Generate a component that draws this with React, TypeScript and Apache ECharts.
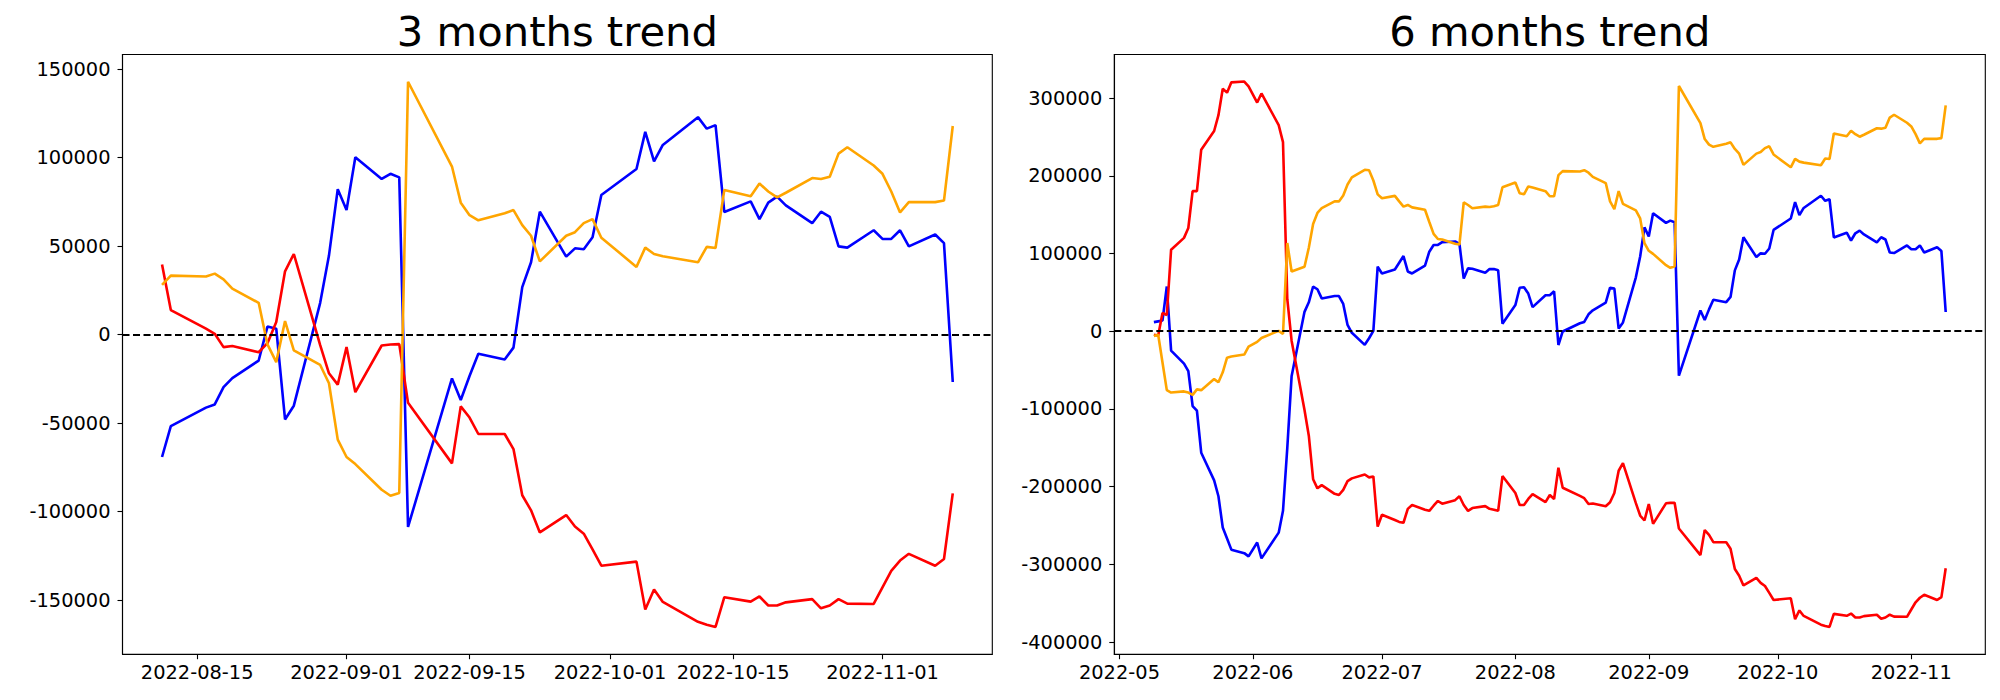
import React, { useEffect, useRef } from "react";
import * as echarts from "echarts";

// ---------- 3 months trend (left panel) ----------
const DATES_3M = [
  "2022-08-11", "2022-08-12", "2022-08-16", "2022-08-17", "2022-08-18", "2022-08-19",
  "2022-08-22", "2022-08-23", "2022-08-24", "2022-08-25", "2022-08-26",
  "2022-08-29", "2022-08-30", "2022-08-31", "2022-09-01", "2022-09-02",
  "2022-09-05", "2022-09-06", "2022-09-07", "2022-09-08",
  "2022-09-13", "2022-09-14", "2022-09-15", "2022-09-16",
  "2022-09-19", "2022-09-20", "2022-09-21", "2022-09-22", "2022-09-23",
  "2022-09-26", "2022-09-27", "2022-09-28", "2022-09-29", "2022-09-30",
  "2022-10-04", "2022-10-05", "2022-10-06", "2022-10-07",
  "2022-10-11", "2022-10-12", "2022-10-13", "2022-10-14",
  "2022-10-17", "2022-10-18", "2022-10-19", "2022-10-20", "2022-10-21",
  "2022-10-24", "2022-10-25", "2022-10-26", "2022-10-27", "2022-10-28",
  "2022-10-31", "2022-11-01", "2022-11-02", "2022-11-03", "2022-11-04",
  "2022-11-07", "2022-11-08", "2022-11-09",
];
const BLUE_3M = [
  -69200, -51800, -41300, -39500, -29700, -24600, -14700, 4500, 3300, -48000, -40200,
  17900, 44600, 82100, 70300, 100200, 87900, 90800, 88800, -108700,
  -24800, -37000, -23400, -10900, -14100, -7400, 26800, 40800, 69400,
  44000, 48700, 48200, 54900, 78800, 93500, 114500, 97800, 107100,
  122800, 116300, 118300, 69200, 75200, 65200, 74500, 77900, 73000,
  62900, 69400, 66500, 49800, 49100, 58900, 54000, 54000, 58900, 49800,
  56500, 51600, -26800,
];
const RED_3M = [
  39500, 13800, 3300, 400, -7100, -6500, -10000, -4900, 7100, 35700, 45500,
  -6000, -21900, -28300, -7100, -32600, -6200, -5600, -5400, -38600,
  -72800, -40600, -46900, -56200, -56200, -64700, -90800, -99300, -111800,
  -102000, -108500, -112500, -121400, -130600, -128300, -155300, -144000, -151100,
  -162300, -164000, -165200, -148400, -150900, -148000, -153100, -153100, -151300,
  -149500, -154700, -153100, -149500, -152000, -152200, -142800, -133500, -127700, -123900,
  -130600, -126800, -89700,
];
const ORANGE_3M = [
  28100, 33300, 32800, 34400, 31200, 25900, 17900, -5600, -15600, 7600, -8900,
  -17200, -27500, -59400, -69200, -73200, -87700, -91100, -89500, 142800,
  94900, 74500, 67400, 64500, 68500, 70300, 61800, 55800, 41300,
  55800, 57800, 62900, 65200, 54700, 38200, 49100, 45500, 44200,
  40800, 49500, 48900, 81700, 78100, 85300, 80800, 77500, 80100,
  88400, 87900, 89100, 102200, 105800, 95500, 90800, 80800, 69000, 74800,
  74800, 75700, 117800,
];

// ---------- 6 months trend (right panel) ----------
const DATES_6M = [
  "2022-05-09", "2022-05-10", "2022-05-11", "2022-05-12", "2022-05-13",
  "2022-05-16", "2022-05-17", "2022-05-18", "2022-05-19", "2022-05-20",
  "2022-05-23", "2022-05-24", "2022-05-25", "2022-05-26", "2022-05-27",
  "2022-05-30", "2022-05-31",
  "2022-06-02", "2022-06-03", "2022-06-07", "2022-06-08", "2022-06-09", "2022-06-10",
  "2022-06-13", "2022-06-14", "2022-06-15", "2022-06-16", "2022-06-17",
  "2022-06-20", "2022-06-21", "2022-06-22", "2022-06-23", "2022-06-24",
  "2022-06-27", "2022-06-28", "2022-06-29", "2022-06-30",
  "2022-07-01", "2022-07-04", "2022-07-05", "2022-07-06", "2022-07-07", "2022-07-08",
  "2022-07-11", "2022-07-12", "2022-07-13", "2022-07-14", "2022-07-15",
  "2022-07-18", "2022-07-19", "2022-07-20", "2022-07-21", "2022-07-22",
  "2022-07-25", "2022-07-26", "2022-07-27", "2022-07-28", "2022-07-29",
  "2022-08-01", "2022-08-02", "2022-08-03", "2022-08-04", "2022-08-05",
  "2022-08-08", "2022-08-09", "2022-08-10", "2022-08-11", "2022-08-12",
  "2022-08-16", "2022-08-17", "2022-08-18", "2022-08-19",
  "2022-08-22", "2022-08-23", "2022-08-24", "2022-08-25", "2022-08-26",
  "2022-08-29", "2022-08-30", "2022-08-31", "2022-09-01", "2022-09-02",
  "2022-09-05", "2022-09-06", "2022-09-07", "2022-09-08",
  "2022-09-13", "2022-09-14", "2022-09-15", "2022-09-16",
  "2022-09-19", "2022-09-20", "2022-09-21", "2022-09-22", "2022-09-23",
  "2022-09-26", "2022-09-27", "2022-09-28", "2022-09-29", "2022-09-30",
  "2022-10-04", "2022-10-05", "2022-10-06", "2022-10-07",
  "2022-10-11", "2022-10-12", "2022-10-13", "2022-10-14",
  "2022-10-17", "2022-10-18", "2022-10-19", "2022-10-20", "2022-10-21",
  "2022-10-24", "2022-10-25", "2022-10-26", "2022-10-27", "2022-10-28",
  "2022-10-31", "2022-11-01", "2022-11-02", "2022-11-03", "2022-11-04",
  "2022-11-07", "2022-11-08", "2022-11-09",
];
const BLUE_6M = [
  11700, 12700, 13700, 57500, -24900, -41700, -51400, -96200, -102300, -156300,
  -191900, -212300, -252500, -266700, -281000, -285500, -289600,
  -271800, -292200, -259100, -231100, -150000, -58000, 24900, 37200, 57500, 54000, 42200,
  45300, 45300, 35100, 8100, -2000, -17500, -9000, 500, 83000,
  74300, 79400, 88100, 96700, 76900, 74300, 84500, 102300, 111000, 111000, 114500,
  115500, 112500, 67700, 80900, 80400, 75300, 79900, 79900, 78400, 9700,
  33600, 56000, 56500, 48400, 31000, 46300, 46300, 51400,
  -17700, -300, 10200, 12000, 21800, 26900, 36800, 56000, 54800, 3500, 11300,
  69400, 96100, 133600, 121800, 151700, 139400, 142300, 140300, -57200,
  26700, 14500, 28100, 40600, 37400, 44100, 78300, 92300, 120900,
  95500, 100200, 99700, 106400, 130300, 145000, 166000, 149300, 158600,
  174300, 167800, 169800, 120700, 126700, 116700, 126000, 129400, 124500,
  114400, 120900, 118000, 101300, 100600, 110400, 105500, 105500, 110400, 101300,
  108000, 103100, 24700,
];
const RED_6M = [
  -4600, -5600, 23400, 20900, 104900, 120100, 132800, 180200, 180200, 233600,
  257600, 277900, 312000, 306900, 320200, 321200, 315100,
  294200, 305900, 265200, 243300, 41200, -12200, -101300, -134400, -190400, -202100, -198000,
  -209200, -210700, -204100, -192900, -189300, -184300, -188000, -186800, -251400,
  -236100, -242800, -245300, -246400, -228500, -223500, -229600, -231100, -224500, -218400, -221900,
  -217300, -212300, -223500, -231100, -227500, -225000, -228500, -229600, -231100, -186300,
  -208200, -223500, -223500, -215800, -209700, -219900, -210700, -215800,
  -175700, -201400, -211900, -214800, -222300, -221700, -225200, -220100, -208100, -179500, -169700,
  -221200, -237100, -243500, -222300, -247800, -221400, -220800, -220600, -253800,
  -288000, -255800, -262100, -271400, -271400, -279900, -306000, -314500, -327000,
  -317200, -323700, -327700, -336600, -345800, -343500, -370500, -359200, -366300,
  -377500, -379200, -380400, -363600, -366100, -363200, -368300, -368300, -366500,
  -364700, -369900, -368300, -364700, -367200, -367400, -358000, -348700, -342900, -339100,
  -345800, -342000, -304900,
];
const ORANGE_6M = [
  -6100, -4600, -40200, -75800, -78900, -77400, -78900, -81900, -74800, -75800,
  -61600, -65700, -52900, -34100, -32600, -30000, -19900,
  -13700, -8700, 500, -3600, 113500, 76900, 83000, 107400, 137900, 152200, 158300,
  167000, 167000, 174600, 188800, 198000, 207700, 207000, 193900, 176100,
  171000, 174100, 167000, 160300, 162400, 159300, 156300, 140500, 125200, 118600, 118100,
  112500, 111500, 165900, 162400, 158300, 160300, 159800, 160800, 162400, 185300,
  191400, 177600, 176100, 186300, 184800, 180200, 173600, 173600,
  200800, 206000, 205500, 207100, 203900, 198600, 190600, 167100, 157100, 180300, 163800,
  155500, 145200, 113300, 103500, 99500, 85000, 81600, 83200, 315500,
  267600, 247200, 240100, 237200, 241200, 243000, 234500, 228500, 214000,
  228500, 230500, 235600, 237900, 227400, 210900, 221800, 218200, 216900,
  213500, 222200, 221600, 254400, 250800, 258000, 253500, 250200, 252800,
  261100, 260600, 261800, 274900, 278500, 268200, 263500, 253500, 241700, 247500,
  247500, 248400, 290500,
];

// ---------- ticks ----------
const X_TICKS_3M = ["2022-08-15", "2022-09-01", "2022-09-15", "2022-10-01", "2022-10-15", "2022-11-01"];
const X_TICKS_6M = ["2022-05-01", "2022-06-01", "2022-07-01", "2022-08-01", "2022-09-01", "2022-10-01", "2022-11-01"];
const Y_TICKS_3M = [-150000, -100000, -50000, 0, 50000, 100000, 150000];
const Y_TICKS_6M = [-400000, -300000, -200000, -100000, 0, 100000, 200000, 300000];

const TITLES = ["3 months trend", "6 months trend"];
const COLORS = { blue: "#0000ff", red: "#ff0000", orange: "#ffa500" };

const FONT = "DejaVu Sans";
const DAY = 86400000;
const ts = (d: string) => Date.parse(d + "T00:00:00Z");

export default function App() {
  const ref = useRef<HTMLDivElement>(null);

  useEffect(() => {
    if (!ref.current) return;
    const chart = echarts.init(ref.current, null, { renderer: "svg" });

    const pair = (dates: string[], vals: number[]) => dates.map((d, i) => [ts(d), vals[i]]);

    const x3min = ts(DATES_3M[0]) - 4.5 * DAY;
    const x3max = ts(DATES_3M[DATES_3M.length - 1]) + 4.5 * DAY;
    const x6min = ts(DATES_6M[0]) - 9.2 * DAY;
    const x6max = ts(DATES_6M[DATES_6M.length - 1]) + 9.2 * DAY;

    const grids = [
      { left: 122.5, top: 54.5, width: 869.8, height: 599.7 },
      { left: 1114.3, top: 54.5, width: 871, height: 599.7 },
    ];

    const labelStyle = { fontSize: 19.4, color: "#000", fontFamily: FONT };
    const tickStyle = { color: "#000", width: 1.1 };

    const xAxis = (gi: number, min: number, max: number, ticks: string[], fmtLen: number) => ({
      type: "value",
      gridIndex: gi,
      min,
      max,
      scale: true,
      axisLine: { show: true, onZero: false, lineStyle: tickStyle },
      axisTick: { show: true, length: 5, lineStyle: tickStyle, customValues: ticks.map(ts) },
      axisLabel: {
        ...labelStyle,
        margin: 9,
        customValues: ticks.map(ts),
        formatter: (v: number) => new Date(v).toISOString().slice(0, fmtLen),
      },
      splitLine: { show: false },
    });

    const yAxis = (gi: number, min: number, max: number, ticks: number[]) => ({
      type: "value",
      gridIndex: gi,
      min,
      max,
      axisLine: { show: true, onZero: false, lineStyle: tickStyle },
      axisTick: { show: true, length: 5, lineStyle: tickStyle, customValues: ticks },
      axisLabel: {
        ...labelStyle,
        margin: 12,
        customValues: ticks,
        formatter: (v: number) => String(v),
      },
      splitLine: { show: false },
    });

    const line = (name: string, color: string, idx: number, data: number[][], zero: boolean) => {
      const s: any = {
        name,
        type: "line",
        xAxisIndex: idx,
        yAxisIndex: idx,
        data,
        showSymbol: false,
        symbol: "none",
        lineStyle: { color, width: 2.6 },
        itemStyle: { color },
        z: 2,
      };
      if (zero) {
        s.markLine = {
          silent: true,
          symbol: ["none", "none"],
          label: { show: false },
          lineStyle: { color: "#000", width: 1.9, type: [7, 3.5] },
          data: [{ yAxis: 0 }],
        };
      }
      return s;
    };

    const option: any = {
      animation: false,
      backgroundColor: "#fff",
      textStyle: { fontFamily: FONT },
      grid: grids.map((g) => ({ ...g, show: true, borderColor: "#000", borderWidth: 1.1, backgroundColor: "transparent" })),
      xAxis: [xAxis(0, x3min, x3max, X_TICKS_3M, 10), xAxis(1, x6min, x6max, X_TICKS_6M, 7)],
      yAxis: [yAxis(0, -180600, 158200, Y_TICKS_3M), yAxis(1, -415500, 356000, Y_TICKS_6M)],
      series: [
        line("blue3", COLORS.blue, 0, pair(DATES_3M, BLUE_3M), false),
        line("red3", COLORS.red, 0, pair(DATES_3M, RED_3M), false),
        line("orange3", COLORS.orange, 0, pair(DATES_3M, ORANGE_3M), true),
        line("blue6", COLORS.blue, 1, pair(DATES_6M, BLUE_6M), false),
        line("red6", COLORS.red, 1, pair(DATES_6M, RED_6M), false),
        line("orange6", COLORS.orange, 1, pair(DATES_6M, ORANGE_6M), true),
      ],
      graphic: TITLES.map((t, i) => ({
        type: "text",
        x: grids[i].left + grids[i].width / 2,
        y: 31.8,
        style: {
          text: t,
          fontSize: 41.7,
          fontFamily: FONT,
          fill: "#000",
          align: "center",
          verticalAlign: "middle",
          textAlign: "center",
          textVerticalAlign: "middle",
        },
      })),
    };

    chart.setOption(option);
    return () => chart.dispose();
  }, []);

  return (
    <div
      ref={ref}
      style={{ position: "absolute", left: 0, top: 0, width: 2000, height: 700, background: "#fff" }}
    />
  );
}
